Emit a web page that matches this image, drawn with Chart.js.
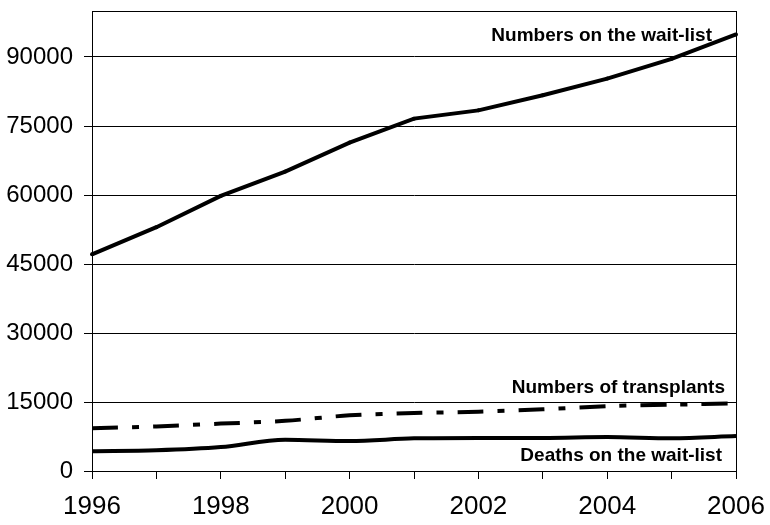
<!DOCTYPE html>
<html>
<head>
<meta charset="utf-8">
<script src="https://cdn.jsdelivr.net/npm/chart.js@4"></script>
<style>
  html, body { margin: 0; padding: 0; background: #fff; }
  #wrap { width: 770px; height: 525px; }
</style>
</head>
<body>
<div id="wrap"><canvas id="waitChart"></canvas></div>
<script>
const years = ["1996", "1997", "1998", "1999", "2000", "2001", "2002", "2003", "2004", "2005", "2006"];
const waitList = [47100, 53000, 59800, 65100, 71400, 76600, 78400, 81700, 85300, 89600, 94900];
const transplants = [9300, 9700, 10300, 10900, 12100, 12600, 12900, 13400, 14100, 14400, 14700];
const deaths = [4300, 4500, 5200, 6800, 6500, 7100, 7200, 7200, 7400, 7100, 7600];
const yTicks = [0, 15000, 30000, 45000, 60000, 75000, 90000];

// Labels written straight on the plot, like in the original figure
const seriesLabels = [
  { text: "Numbers on the wait-list", value: 93400, right: 24 },
  { text: "Numbers of transplants", value: 16900, right: 11 },
  { text: "Deaths on the wait-list", value: 2250, right: 14 },
];

const boxAndLabels = {
  id: "boxAndLabels",
  afterDatasetsDraw(chart) {
    const { ctx, chartArea, scales } = chart;
    ctx.save();
    ctx.strokeStyle = "#000";
    ctx.lineWidth = 1;
    ctx.strokeRect(chartArea.left + 0.5, chartArea.top + 0.5,
      chartArea.right - chartArea.left, chartArea.bottom - chartArea.top);

    ctx.fillStyle = "#000";
    ctx.font = "bold 19px 'Liberation Sans', Arial, sans-serif";
    ctx.textAlign = "right";
    ctx.textBaseline = "alphabetic";
    seriesLabels.forEach((l) => {
      ctx.fillText(l.text, chartArea.right - l.right, scales.y.getPixelForValue(l.value));
    });
    ctx.restore();
  },
};

// keep the plot box where the layout padding puts it
function noAutoPadding(scale) {
  scale.paddingLeft = 0;
  scale.paddingRight = 0;
  scale.paddingTop = 0;
  scale.paddingBottom = 0;
}

const ctx = document.getElementById("waitChart").getContext("2d");

new Chart(ctx, {
  type: "line",
  data: {
    labels: years,
    datasets: [
      {
        label: "Numbers on the wait-list",
        data: waitList,
        borderColor: "#000",
        backgroundColor: "#000",
        borderWidth: 4,
        pointRadius: 2,
        pointBorderWidth: 0,
        tension: 0,
      },
      {
        label: "Numbers of transplants",
        data: transplants,
        borderColor: "#000",
        borderWidth: 4,
        borderDash: [26, 14, 7, 14],
        pointRadius: 0,
        tension: 0.3,
      },
      {
        label: "Deaths on the wait-list",
        data: deaths,
        borderColor: "#000",
        borderWidth: 4,
        pointRadius: 0,
        cubicInterpolationMode: "monotone",
      },
    ],
  },
  options: {
    responsive: true,
    maintainAspectRatio: false,
    animation: false,
    layout: { padding: { top: 11, right: 34, left: 0, bottom: 0 } },
    scales: {
      x: {
        offset: false,
        grid: {
          drawOnChartArea: false,
          drawTicks: true,
          tickLength: 8,
          color: "#000",
        },
        border: { display: true, color: "#000", width: 1 },
        ticks: {
          color: "#000",
          autoSkip: false,
          maxRotation: 0,
          padding: 12,
          font: { family: "'Liberation Sans', Arial, sans-serif", size: 26 },
          callback: function (val, i) {
            return i % 2 === 0 ? years[i] : "";
          },
        },
        afterFit(scale) {
          scale.height = 54;
          noAutoPadding(scale);
        },
      },
      y: {
        min: 0,
        max: 100000,
        afterBuildTicks(scale) {
          scale.ticks = yTicks.map((v) => ({ value: v }));
        },
        grid: {
          color: "#000",
          lineWidth: 1,
          drawTicks: true,
          tickLength: 8,
        },
        border: { display: true, color: "#000", width: 1 },
        ticks: {
          color: "#000",
          padding: 11,
          font: { family: "'Liberation Sans', Arial, sans-serif", size: 24 },
          callback: (v) => String(v),
        },
        afterFit(scale) {
          scale.width = 92;
          noAutoPadding(scale);
        },
      },
    },
    plugins: {
      legend: { display: false },
      tooltip: { enabled: false },
    },
  },
  plugins: [boxAndLabels],
});
</script>
</body>
</html>
